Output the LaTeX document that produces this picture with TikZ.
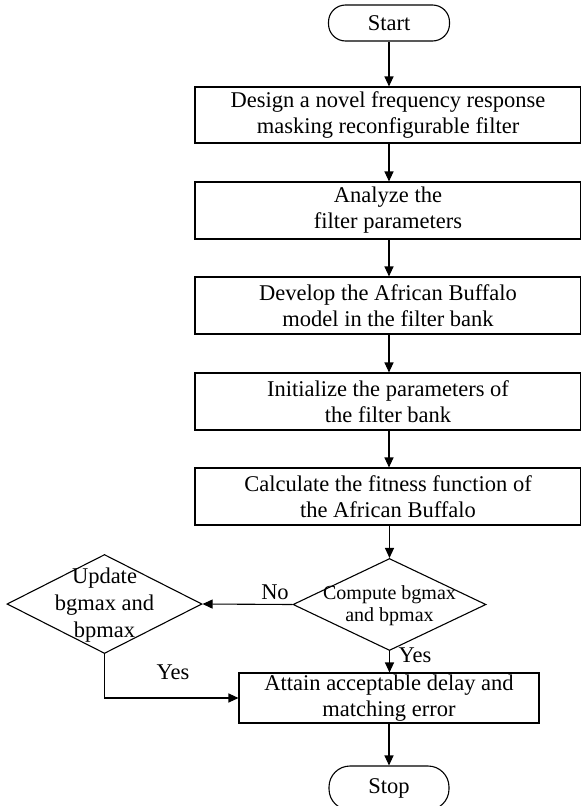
\documentclass[tikz,border=0pt]{standalone}
\usepackage{fontspec}
\setmainfont{Liberation Serif}
\usetikzlibrary{shapes.geometric,arrows.meta}
\begin{document}
\begin{tikzpicture}[x=1pt,y=-1pt,
  every node/.style={font=\fontsize{22.5}{26}\selectfont},
  procbox/.style={draw, line width=1.1pt, minimum height=56pt, align=center, inner sep=0pt},
  termbox/.style={draw, line width=1.1pt, rounded corners=17pt, minimum width=121pt, minimum height=36pt, inner sep=0pt},
  decbox/.style={draw, diamond, line width=1.1pt, inner sep=0pt},
  flow/.style={line width=1.1pt, -{Triangle[length=10pt,width=9pt]}},
  small/.style={font=\fontsize{20}{22}\selectfont, align=center},
  upd/.style={font=\fontsize{22.5}{27}\selectfont, align=center}
]
\useasboundingbox (0,0) rectangle (581,806);

% terminals
\node[termbox] (start) at (389,23) {Start};
\node[termbox, minimum width=120pt, minimum height=44pt, rounded corners=21pt] (stop) at (389,788) {Stop};

% process boxes
\node[procbox, minimum width=386pt] (b1) at (388,115) {Design a novel frequency response\\masking reconfigurable filter};
\node[procbox, minimum width=386pt, minimum height=57pt] (b2) at (388,210.5) {Analyze the\\filter parameters};
\node[procbox, minimum width=386pt, minimum height=57pt] (b3) at (388,305.5) {Develop the African Buffalo\\model in the filter bank};
\node[procbox, minimum width=386pt, minimum height=57pt] (b4) at (388,401.5) {Initialize the parameters of\\the filter bank};
\node[procbox, minimum width=386pt, minimum height=57pt] (b5) at (388,496.5) {Calculate the fitness function of\\the African Buffalo};
\node[procbox, minimum width=300pt, minimum height=50pt] (att) at (389,698) {Attain acceptable delay and\\matching error};

% decisions
\node[decbox, minimum width=193pt, minimum height=92pt] (cmp) at (389.5,604.5) {};
\node[small] (cmptxt) at (389.5,606) {Compute bgmax\\and bpmax};
\node[decbox, minimum width=195pt, minimum height=99pt] (updd) at (104.5,604) {};
\node[upd] (updtxt) at (104.5,605) {Update\\bgmax and\\bpmax};

% connectors
\draw[flow] (start.south) -- (start.south |- b1.north);
\draw[flow] (b1.south -| start.south) -- (start.south |- b2.north);
\draw[flow] (b2.south -| start.south) -- (start.south |- b3.north);
\draw[flow] (b3.south -| start.south) -- (start.south |- b4.north);
\draw[flow] (b4.south -| start.south) -- (start.south |- b5.north);
\draw[flow] (b5.south -| cmp.north) -- (cmp.north);
\draw[flow] (cmp.west) -- (updd.east);
\draw[flow] (cmp.south) -- (cmp.south |- att.north);
\draw[flow] (updd.south) |- (att.west);
\draw[flow] (att.south) -- (stop.north);

% branch labels
\node (lno) at (275,592) {No};
\node (lyes1) at (415,655) {Yes};
\node (lyes2) at (173,672) {Yes};
\end{tikzpicture}
\end{document}
